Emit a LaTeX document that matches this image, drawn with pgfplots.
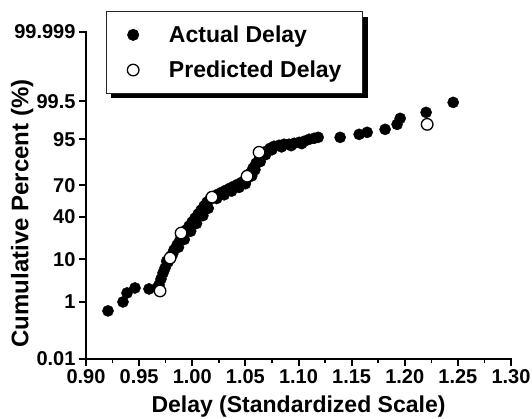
\documentclass[border=0pt]{standalone}
\usepackage{fontspec}
\setmainfont{Liberation Sans}
\usepackage{pgfplots}
\pgfplotsset{compat=1.18}
\usepackage{pgfplotstable}
\usetikzlibrary{shadows}

% y values are normal quantiles (probit) of the cumulative percent
\pgfplotstableread{
x y
0.9207 -2.545
0.9348 -2.326
0.9386 -2.107
0.9461 -1.985
0.9593 -2.009
0.9678 -1.961
0.9687 -1.912
0.9706 -1.766
0.9725 -1.620
0.9744 -1.498
0.9772 -1.352
0.9800 -1.205
0.9828 -1.059
0.9857 -0.937
0.9885 -0.816
0.9913 -0.694
0.9941 -0.572
0.9970 -0.475
0.9998 -0.377
1.0026 -0.280
1.0055 -0.182
1.0083 -0.085
1.0111 0.013
1.0139 0.110
1.0168 0.183
1.0205 0.256
1.0243 0.305
1.0281 0.354
1.0318 0.402
1.0356 0.451
1.0394 0.500
1.0431 0.548
1.0469 0.597
1.0497 0.646
1.0516 0.695
1.0544 0.816
1.0572 0.938
1.0601 1.060
1.0629 1.157
1.0657 1.255
1.0695 1.352
1.0733 1.425
1.0770 1.474
1.0817 1.498
1.0864 1.523
1.0911 1.523
1.0959 1.547
1.1006 1.571
1.1053 1.596
1.1100 1.645
1.1147 1.669
1.1185 1.693
1.1392 1.693
1.1571 1.766
1.1646 1.815
1.1815 1.888
1.1928 2.010
1.1957 2.156
1.2201 2.302
1.2456 2.546
0.9760 -1.330
0.9815 -1.160
0.9870 -0.990
0.9925 -0.800
0.9985 -0.600
1.0040 -0.410
1.0100 -0.220
1.0150 -0.040
1.0230 0.200
1.0300 0.290
1.0370 0.380
1.0440 0.470
1.0500 0.560
1.0560 0.750
1.0590 0.900
1.0640 1.100
1.0690 1.270
1.0750 1.390
1.0840 1.460
1.0930 1.490
1.1030 1.540
}\actual

\pgfplotstableread{
x y
0.9697 -2.058
0.9791 -1.254
0.9895 -0.645
1.0186 0.232
1.0516 0.743
1.0629 1.328
1.2211 2.010
}\predicted

\begin{document}
\begin{tikzpicture}
\path[use as bounding box] (-86pt,-59pt) rectangle (446pt,359pt);
\begin{axis}[
  scale only axis, width=425pt, height=327pt,
  xmin=0.9, xmax=1.3, ymin=-3.72, ymax=4.265,
  axis x line=bottom, axis y line=left,
  axis line style={-, line width=2.2pt, line cap=rect},
  xtick={0.9,0.95,1,1.05,1.1,1.15,1.2,1.25,1.3},
  xticklabels={0.90,0.95,1.00,1.05,1.10,1.15,1.20,1.25,1.30},
  minor x tick num=1,
  ytick={-3.719,-2.326,-1.2816,-0.2533,0.5244,1.6449,2.5758,4.265},
  yticklabels={0.01,1,10,40,70,95,99.5,99.999},
  tick align=outside,
  major tick length=7pt, minor tick length=4pt,
  major tick style={black, line width=2pt},
  minor tick style={black, line width=1.6pt},
  tick label style={font=\fontsize{20}{22}\selectfont\bfseries},
  label style={font=\fontsize{23}{27}\selectfont\bfseries},
  xlabel={Delay (Standardized Scale)},
  ylabel={Cumulative Percent (\%)},
  xlabel style={at={(axis description cs:0.5,0)}, anchor=base, yshift=-53.7pt},
  ylabel style={at={(axis description cs:-0.150,0.445)}, anchor=center,
    font=\fontsize{24}{27}\selectfont\bfseries},
  legend style={at={(rel axis cs:0.047,1.063)}, anchor=north west,
    draw=black!85, line width=0.8pt, fill=white,
    font=\fontsize{23}{27}\selectfont\bfseries,
    inner xsep=21pt, inner ysep=14pt, column sep=30pt, row sep=17pt,
    nodes={inner sep=0pt},
    drop shadow={shadow xshift=5pt, shadow yshift=-5pt, fill=black, opacity=1}},
  legend cell align=left,
  legend image code/.code={\draw[#1] plot coordinates {(0pt,0pt)};},
]
\addplot[only marks, mark=*, mark size=5.6pt, black] table {\actual};
\addlegendentry{Actual Delay}
\addplot[only marks, mark=*, mark size=5.8pt, mark options={fill=white, draw=black, line width=1.3pt}] table {\predicted};
\addlegendentry{Predicted Delay}
\end{axis}
\end{tikzpicture}
\end{document}
